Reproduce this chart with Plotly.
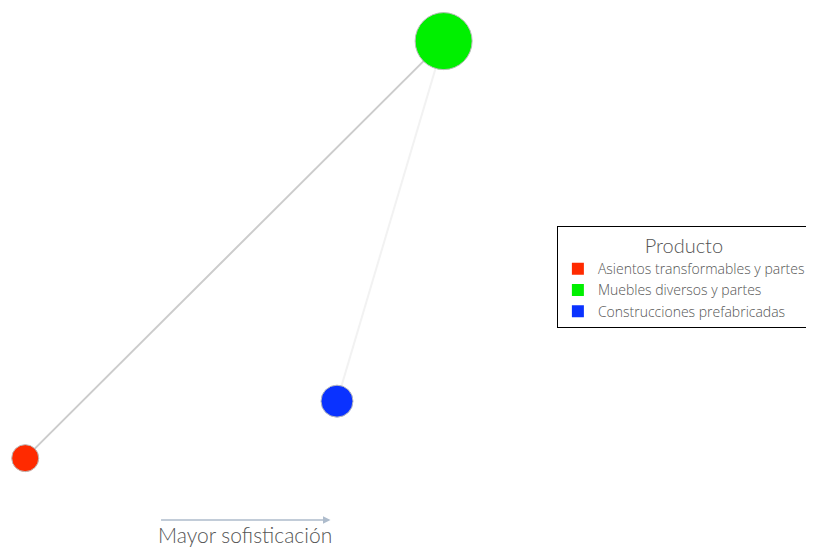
import plotly.graph_objects as go

# nodos (productos)
productos = ["Asientos transformables y partes", "Muebles diversos y partes", "Construcciones prefabricadas"]
colores = ["#ff2a00", "#00f000", "#0a32ff"]
sofisticacion = [3.1, 54.5, 41.4]   # eje x (oculto)
posicion_y = [16.4, 92.5, 26.8]
tamanos = [27, 57, 32]

# aristas (origen, destino, color)
origen = [1, 1]
destino = [0, 2]
color_arista = ["#cccccc", "#f2f2f2"]

fig = go.Figure()

for o, d, c in zip(origen, destino, color_arista):
    fig.add_trace(go.Scatter(
        x=[sofisticacion[o], sofisticacion[d]], y=[posicion_y[o], posicion_y[d]],
        mode="lines", line=dict(color=c, width=2), hoverinfo="skip", showlegend=False))

for i in range(len(productos)):
    fig.add_trace(go.Scatter(
        x=[sofisticacion[i]], y=[posicion_y[i]], mode="markers",
        marker=dict(size=tamanos[i], color=colores[i], line=dict(color="#bbbbbb", width=1)),
        name=productos[i], showlegend=False))
    # entrada de leyenda cuadrada
    fig.add_trace(go.Scatter(
        x=[None], y=[None], mode="markers",
        marker=dict(size=12, color=colores[i], symbol="square"),
        name=productos[i], showlegend=True))

fig.add_annotation(x=40.6, y=5.1, ax=19.6, ay=5.1, xref="x", yref="y", axref="x", ayref="y",
                   text="", showarrow=True, arrowhead=2, arrowsize=1, arrowwidth=1.5,
                   arrowcolor="#aebccc")
fig.add_annotation(x=30.1, y=2.4, xref="x", yref="y", text="Mayor sofisticación",
                   showarrow=False, font=dict(size=21, color="#555555"))

# la pagina tiene un margen de 8px: la figura se reduce y los rangos lo compensan
fig.update_xaxes(range=[0.983, 100], visible=False)
fig.update_yaxes(range=[0, 98.54], visible=False)

fig.update_layout(
    width=806, height=540,
    margin=dict(l=0, r=0, t=0, b=0, autoexpand=False),
    plot_bgcolor="white", paper_bgcolor="white",
    font=dict(family="Lato", color="#555555", weight=300),
    legend=dict(
        title=dict(text="Producto", side="top center",
                   font=dict(size=20, color="#555555", family="Lato")),
        x=0.681, y=0.596, xanchor="left", yanchor="top",
        bordercolor="black", borderwidth=1, bgcolor="white",
        font=dict(size=14, color="#555555", family="Open Sans"),
        itemsizing="constant", itemwidth=30, tracegroupgap=0,
    ),
)

fig.write_html("out.html")
